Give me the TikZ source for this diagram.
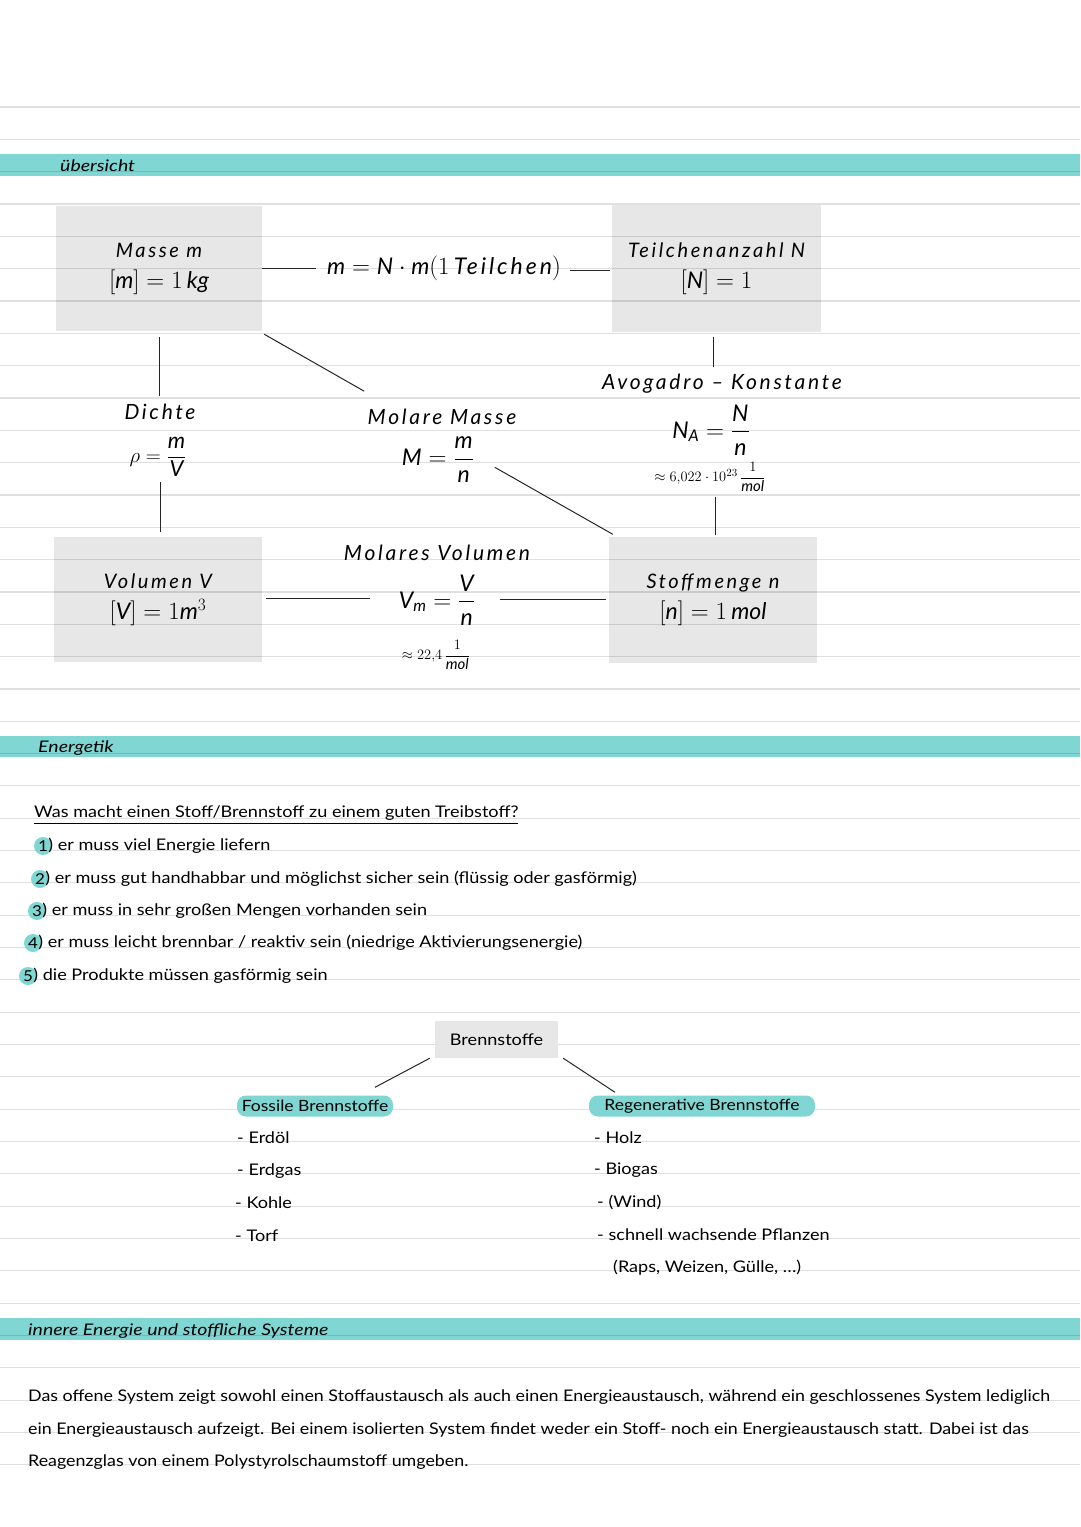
\documentclass[tikz,border=0pt]{standalone}
\usepackage{amsmath}
\usepackage{fontspec}
\setmainfont{Lato}
\newfontfamily\spc[LetterSpace=13]{Lato}
\newfontfamily\hw[FakeStretch=1.13]{Lato}
\newfontfamily\hwp[FakeStretch=1.115]{Lato}
\newfontfamily\hwt[FakeStretch=1.22]{Lato}
\newcommand{\mv}[1]{\mathit{#1}}
\newcommand{\bigfs}{\fontsize{23}{31}\selectfont}
\usetikzlibrary{calc}
\definecolor{teal1}{RGB}{128,214,211}
\definecolor{boxgray}{RGB}{231,231,231}
\pgfdeclarelayer{bg}
\pgfdeclarelayer{rules}
\pgfsetlayers{bg,rules,main}
\begin{document}
\begin{tikzpicture}[x=1pt,y=-1pt,
  gbox/.style={minimum width=#1, inner sep=0pt, align=center,
    font=\spc\itshape\fontsize{20}{31}\selectfont},
  lbl/.style={inner sep=2pt, align=center, font=\spc\itshape\fontsize{21}{24}\selectfont},
  frm/.style={inner sep=2pt, align=center, font=\spc\itshape\fontsize{23}{26}\selectfont},
  small/.style={inner sep=2pt, font=\itshape\fontsize{15}{17}\selectfont},
  conn/.style={draw=black!85, line width=1pt},
  sect/.style={anchor=west, inner sep=0pt, font=\hwt\itshape\fontsize{16}{18}\selectfont},
  hand/.style={anchor=west, inner sep=0pt, font=\hw\fontsize{16}{18}\selectfont},
  numc/.style={circle, fill=teal1, inner sep=0pt, minimum size=18pt, font=\hw\fontsize{15}{18}\selectfont},
  pill/.style={fill=teal1, rounded corners=9pt, inner sep=0pt, inner xsep=3pt, minimum height=21pt, font=\hw\fontsize{15.5}{18}\selectfont},
  para/.style={anchor=west, inner sep=0pt, font=\hwp\fontsize{16}{18}\selectfont}
]
\useasboundingbox (0,0) rectangle (1080,1527);
\begin{pgfonlayer}{bg}
\fill[white] (0,0) rectangle (1080,1527);
\fill[teal1] (0,154) rectangle (1080,176);
\fill[teal1] (0,736) rectangle (1080,757);
\fill[teal1] (0,1318) rectangle (1080,1340);
\end{pgfonlayer}
\begin{pgfonlayer}{rules}
\foreach \k in {0,...,42}
  \draw[black, opacity=0.12, line width=1.1pt] (0,{107+32.33*\k}) -- (1080,{107+32.33*\k});
\end{pgfonlayer}

% section titles
\node[sect] (t1) at (60,166) {übersicht};
\node[sect] (t2) at (38,748) {Energetik};
\node[sect] (t3) at (28,1331) {innere Energie und stoffliche Systeme};

% ---- Übersicht boxes
\node[gbox=206pt, minimum height=125pt] (masse) at (159,268.5) {Masse $\mv{m}$\\ {\bigfs$[\mv{m}] = 1\,\mv{kg}$}};
\node[gbox=209pt, minimum height=127pt] (teil) at (716.5,268.5) {Teilchenanzahl $\mv{N}$\\ {\bigfs$[\mv{N}] = 1$}};
\node[gbox=208pt, minimum height=125pt] (vol) at (158,599.5) {Volumen $\mv{V}$\\ {\bigfs$[\mv{V}] = 1\mv{m}^3$}};
\node[gbox=208pt, minimum height=125pt] (stoff) at (713,600) {Stoffmenge $\mv{n}$\\ {\bigfs$[\mv{n}] = 1\,\mv{mol}$}};
\begin{pgfonlayer}{bg}
\foreach \b in {masse,teil,vol,stoff}
  \fill[boxgray] (\b.north west) rectangle (\b.south east);
\end{pgfonlayer}

\node[frm, inner sep=4pt] (mform) at (444,268) {$\mv{m} = \mv{N}\cdot \mv{m}(1\,$Teilchen$)$};
\node[lbl] (avog) at (722,384) {Avogadro – Konstante};
\node[frm] (na) at (711,430) {$\mv{N}_{\mv{A}} = \dfrac{\mv{N}}{\mv{n}}$};
\node[small] (naval) at (710,477) {$\approx 6{,}022\cdot 10^{23}\,\dfrac{1}{\mv{mol}}$};

\node[lbl] (dichte) at (160,412) {Dichte};
\node[frm, font=\spc\itshape\fontsize{22}{26}\selectfont] (rho) at (158,457) {$\rho = \dfrac{\mv{m}}{\mv{V}}$};

\node[lbl] (molm) at (442,417) {Molare Masse};
\node[frm] (mm) at (438,460) {$\mv{M} = \dfrac{\mv{m}}{\mv{n}}$};

\node[lbl] (molv) at (437,553) {Molares Volumen};
\node[frm] (vm) at (437,600) {$\mv{V}_{\mv{m}} = \dfrac{\mv{V}}{\mv{n}}$};
\node[small] (vmval) at (436,655) {$\approx 22{,}4\,\dfrac{1}{\mv{mol}}$};

% connectors
\draw[conn] (masse.east) -- ++(54,0) coordinate (c1);
\draw[conn] ($(teil.west)+(-42,1.5)$) -- ($(teil.west)+(-2,1.5)$);
\draw[conn] ($(teil.south)+(-3,5)$) -- ($(teil.south)+(-3,35)$);
\draw[conn] ($(masse.south east)+(2,3)$) -- ($(masse.south east)+(102,60)$);
\draw[conn] ($(masse.south)+(0,6)$) -- ($(masse.south)+(0,65)$);
\draw[conn] ($(vol.north)+(2,-55)$) -- ($(vol.north)+(2,-5)$);
\draw[conn] ($(stoff.north west)+(-114,-70)$) -- ($(stoff.north west)+(4,-3)$);
\draw[conn] ($(stoff.north)+(2,-40)$) -- ($(stoff.north)+(2,-2)$);
\draw[conn] ($(vol.east)+(4,-1.5)$) -- ($(vol.east)+(108,-1.5)$);
\draw[conn] ($(stoff.west)+(-109,-1)$) -- ($(stoff.west)+(-3,-1)$);

% ---- Energetik
\node[hand] (q) at (34,815) {\underline{Was macht einen Stoff/Brennstoff zu einem guten Treibstoff?}};
\node[numc] (n1) at (43,846) {1};
\node[hand] (i1) at ($(n1.east)+(-4,0)$) {) er muss viel Energie liefern};
\node[numc] (n2) at (40,879) {2};
\node[hand] (i2) at ($(n2.east)+(-4,0)$) {) er muss gut handhabbar und möglichst sicher sein (flüssig oder gasförmig)};
\node[numc] (n3) at (37,911) {3};
\node[hand] (i3) at ($(n3.east)+(-4,0)$) {) er muss in sehr großen Mengen vorhanden sein};
\node[numc] (n4) at (33,943) {4};
\node[hand] (i4) at ($(n4.east)+(-4,0)$) {) er muss leicht brennbar / reaktiv sein (niedrige Aktivierungsenergie)};
\node[numc] (n5) at (28,976) {5};
\node[hand] (i5) at ($(n5.east)+(-4,0)$) {) die Produkte müssen gasförmig sein};

\node[fill=boxgray, minimum width=123pt, minimum height=37pt, inner sep=0pt, font=\hw\fontsize{16}{18}\selectfont] (brenn) at (496.5,1039.5) {Brennstoffe};
\node[pill, minimum width=156pt] (foss) at (315,1106) {Fossile Brennstoffe};
\node[pill, minimum width=226pt] (regen) at (702,1106) {Regenerative Brennstoffe};
\draw[conn] ($(brenn.south west)+(-5,0)$) -- ($(foss.north)+(60,-8)$);
\draw[conn] ($(brenn.south east)+(5,0)$) -- ($(regen.north)+(-87,-3)$);

\node[hand] (f1) at (237,1138) {- Erdöl};
\node[hand] (f2) at (237,1171) {- Erdgas};
\node[hand] (f3) at (235,1203) {- Kohle};
\node[hand] (f4) at (235,1236) {- Torf};
\node[hand] (r1) at (594,1138) {- Holz};
\node[hand] (r2) at (594,1170) {- Biogas};
\node[hand] (r3) at (597,1202) {- (Wind)};
\node[hand] (r4) at (597,1235) {- schnell wachsende Pflanzen};
\node[hand] (r5) at (613,1268) {(Raps, Weizen, Gülle, \dots)};

% ---- Innere Energie
\node[para] (p1) at (28,1397) {Das offene System zeigt sowohl einen Stoffaustausch als auch einen Energieaustausch, während ein geschlossenes System lediglich};
\node[para] (p2) at (28,1430) {ein Energieaustausch aufzeigt. Bei einem isolierten System findet weder ein Stoff- noch ein Energieaustausch statt. Dabei ist das};
\node[para] (p3) at (28,1462) {Reagenzglas von einem Polystyrolschaumstoff umgeben.};
\end{tikzpicture}
\end{document}
